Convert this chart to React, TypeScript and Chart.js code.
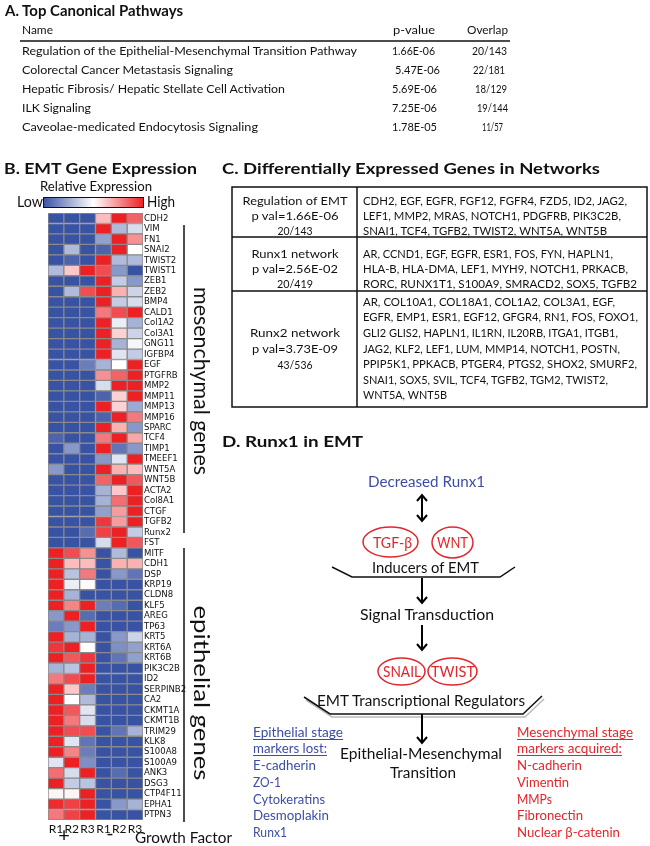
import React, { useEffect, useRef } from 'react';
import { Chart, registerables } from 'chart.js';
Chart.register(...registerables);

// ---------------- DATA ----------------
const PATHWAYS = [
  'Regulation of the Epithelial-Mesenchymal Transition Pathway',
  'Colorectal Cancer Metastasis Signaling',
  'Hepatic Fibrosis/ Hepatic Stellate Cell Activation',
  'ILK Signaling',
  'Caveolae-medicated Endocytosis Signaling',
];
const P_VALUES = ['1.66E-06', '5.47E-06', '5.69E-06', '7.25E-06', '1.78E-05'];
const OVERLAPS = ['20/143', '22/181', '18/129', '19/144', '11/57'];

const GENES = ['CDH2','VIM','FN1','SNAI2','TWIST2','TWIST1','ZEB1','ZEB2','BMP4','CALD1','Col1A2','Col3A1','GNG11','IGFBP4','EGF','PTGFRB','MMP2','MMP11','MMP13','MMP16','SPARC','TCF4','TIMP1','TMEEF1','WNT5A','WNT5B','ACTA2','Col8A1','CTGF','TGFB2','Runx2','FST','MITF','CDH1','DSP','KRP19','CLDN8','KLF5','AREG','TP63','KRT5','KRT6A','KRT6B','PIK3C2B','ID2','SERPINB2','CA2','CKMT1A','CKMT1B','TRIM29','KLK8','S100A8','S100A9','ANK3','DSG3','CTP4F11','EPHA1','PTPN3'];
const COLUMN_LABELS = ['R1', 'R2', 'R3', 'R1', 'R2', 'R3'];

// relative expression, -1 (low, blue) .. 1 (high, red)
const PLUS_R1 = [-1,-1,-1,-1,-1,-0.4,-1,-1,-1,-1, -1,-1,-1,-1,-1,-1,-1,-1,-1,-1, -1,-0.9,-1,-1,-0.6,-1,-1,-1,-1,-1, -1,-1,1,1,1,1,1,1,-0.6,-0.75, 1,0.9,1,-0.45,0.6,1,1,1,1,1, 1,1,-0.15,0.65,1,0.05,0.95,0.6];
const PLUS_R2 = [-1,-1,-1,-0.4,-0.9,0.25,-1,-0.4,-1,-1, -1,-1,-1,-1,-1,-1,-1,-1,-1,-1, -1,-1,-0.6,-1,-1,-1,-1,-1,-1,-1, -1,-1,0.8,0.3,-0.35,-0.1,-0.45,0.55,1,-0.6, -0.45,1,0.75,-0.35,0.8,0.25,0,0.75,0.6,0.8, -0.15,0.55,1,-0.2,-0.3,0.05,0.85,0.85];
const PLUS_R3 = [-1,-1,-1,-1,-1,1,-1,0.8,-1,-1, -1,-1,-1,-1,-0.75,-1,-1,-1,-1,-1, -1,-1,-1,-1,-1,-1,-1,-1,-1,-1, -0.85,-1,0.5,0.3,0.6,0.02,-1,1,-0.85,1, -0.45,0,0.9,1,1,-0.75,-0.4,-0.15,-0.2,0.8, -0.8,-0.75,-0.65,1,-0.35,1,1,1];
const MINUS_R1 = [0.3,1,-0.55,-0.9,1,0.8,1,1,1,0.6, 1,1,1,1,-0.45,0.5,-0.2,-0.9,1,-0.9, 1,0.6,1,-0.6,1,0.7,-0.45,-0.45,-0.55,0.9, 0.85,-0.2,-1,-1,-1,-1,-1,-0.75,-1,-1, -1,-1,-1,-1,-1,-1,-1,-1,-1,-1, -1,-1,-1,-1,-1,-1,-1,-1];
const MINUS_R2 = [1,-0.4,1,1,-0.4,-0.6,-0.3,0.35,-0.3,0.8, -0.1,0.2,-0.45,-0.15,0,0.7,1,0.2,0.2,1, 0.35,1,-0.8,-0.15,0.35,1,0.25,0.65,0.45,0.45, 1,1,-0.4,0.35,-0.6,-1,-1,-0.85,-1,-1, -0.6,-0.65,-0.8,-1,-1,-1,-1,-1,-1,-0.8, -1,-1,-1,-0.85,-1,-1,-0.6,-1];
const MINUS_R3 = [0.7,-0.2,0.5,0,-0.4,-1,-0.6,-0.25,-0.2,1, -0.45,-0.25,-0.05,-0.3,1,1,1,1,-0.5,0.6, -0.6,0.4,-0.6,1,0.3,0.75,1,1,1,1, -0.3,0.75,-1,0.35,-0.8,-1,-1,-1,-1,-1, -0.25,-0.55,-0.55,-1,-1,-1,-1,-1,-1,-0.45, -1,-1,-1,-1,-1,-1,-0.45,-1];
const COLUMNS = [PLUS_R1, PLUS_R2, PLUS_R3, MINUS_R1, MINUS_R2, MINUS_R3];

const NETWORK_NAMES = ['Regulation of EMT', 'Runx1 network', 'Runx2  network'];
const NETWORK_PVALS = ['p val=1.66E-06', 'p val=2.56E-02', 'p val=3.73E-09'];
const NETWORK_OVERLAPS = ['20/143', '20/419', '43/536'];
const NETWORK_GENES = [
  ['CDH2, EGF, EGFR, FGF12, FGFR4, FZD5, ID2, JAG2,', 'LEF1, MMP2, MRAS, NOTCH1, PDGFRB, PIK3C2B,', 'SNAI1, TCF4, TGFB2, TWIST2, WNT5A, WNT5B'],
  ['AR, CCND1, EGF, EGFR, ESR1, FOS, FYN, HAPLN1,', 'HLA-B, HLA-DMA, LEF1, MYH9, NOTCH1, PRKACB,', 'RORC, RUNX1T1, S100A9, SMRACD2, SOX5, TGFB2'],
  ['AR, COL10A1, COL18A1, COL1A2, COL3A1, EGF,', 'EGFR, EMP1, ESR1, EGF12, GFGR4, RN1, FOS, FOXO1,', 'GLI2 GLIS2, HAPLN1, IL1RN, IL20RB, ITGA1, ITGB1,', 'JAG2, KLF2, LEF1, LUM, MMP14, NOTCH1, POSTN,', 'PPIP5K1, PPKACB, PTGER4, PTGS2, SHOX2, SMURF2,', 'SNAI1, SOX5, SVIL, TCF4, TGFB2, TGM2, TWIST2,', 'WNT5A, WNT5B'],
];
const EPI_MARKERS = ['E-cadherin', 'ZO-1', 'Cytokeratins', 'Desmoplakin', 'Runx1'];
const MES_MARKERS = ['N-cadherin', 'Vimentin', 'MMPs', 'Fibronectin', 'Nuclear \u03b2-catenin'];

// ---------------- LAYOUT (positions / widths) ----------------
const A_ROW_Y = [55, 74, 93, 112, 131];
const A_NAME_W = [335, 211, 263, 69, 236];
const A_PV_X = [392, 395, 392, 392, 392];
const A_PV_W = [43, 45, 45, 45, 45];
const A_OV_X = [472, 473, 475, 477, 482];
const A_OV_W = [35, 32, 32, 31, 21];
const C_LEFT_Y = [[205, 220, 235], [258, 273, 288], [337, 353, 369]];
const C_LEFT_W = [[105, 87, 35], [87, 86, 36], [90, 86, 35]];
const C_RIGHT_Y = [[205, 220, 235], [258, 273, 288], [305.5, 321, 337, 352.5, 368, 384, 399]];
const C_RIGHT_W = [[264, 258, 244], [250, 265, 274], [252, 275, 255, 257, 274, 245, 84]];
const EPI_W = [63, 28, 72, 76, 34];
const MES_W = [65, 52, 35, 66, 103];

const FONT = "Lato, 'Open Sans', sans-serif";
const NARROW = "'Liberation Sans Narrow', 'DejaVu Sans Condensed', Lato, sans-serif";
const BLUE_TXT = '#3d4da3';
const RED_TXT = '#e1262c';
const LOW_RGB = [57, 83, 164];
const HIGH_RGB = [237, 32, 36];

function heatColor(v: number) {
  const t = Math.min(1, Math.abs(v));
  const target = v < 0 ? LOW_RGB : HIGH_RGB;
  const c = target.map((ch) => Math.round(255 + (ch - 255) * t));
  return `rgb(${c[0]},${c[1]},${c[2]})`;
}

let measureCtx: CanvasRenderingContext2D | null = null;
function measure(text: string, size: number, family: string, bold: boolean) {
  if (!measureCtx) measureCtx = document.createElement('canvas').getContext('2d');
  if (!measureCtx) return 0;
  measureCtx.font = `${bold ? 700 : 400} ${size}px ${family}`;
  return measureCtx.measureText(text).width;
}
// one font size for a group of texts, so that the longest texts fit their measured widths
function groupSize(items: [string, number][], s: number, bold = false, grow = 1) {
  const long = items.filter(([t]) => t.length >= 8);
  const use = long.length ? long : items;
  let r = 1.1;
  for (const [t, w] of use) {
    const nat = measure(t, s, FONT, bold);
    if (nat > 0) r = Math.min(r, w / nat);
  }
  return s * Math.max(0.6, r) * grow;
}

type TP = { x: number; y: number; s: number; w?: number; a?: string; c?: string; b?: boolean; children: any };
function T({ x, y, s, w, a = 'start', c = '#111', b = false, children }: TP) {
  const extra: any = w ? { textLength: w, lengthAdjust: 'spacingAndGlyphs' } : {};
  return (
    <text x={x} y={y} fontSize={s} fill={c} textAnchor={a as any} fontWeight={b ? 700 : 400} fontFamily={FONT} {...extra}>
      {children}
    </text>
  );
}

function Arrow({ x, y1, y2, both = false }: { x: number; y1: number; y2: number; both?: boolean }) {
  return (
    <g stroke="#000" strokeWidth={2} fill="none">
      <line x1={x} y1={y1} x2={x} y2={y2} />
      <polyline points={`${x - 5},${y2 - 6} ${x},${y2} ${x + 5},${y2 - 6}`} />
      {both && <polyline points={`${x - 5},${y1 + 6} ${x},${y1} ${x + 5},${y1 + 6}`} />}
    </g>
  );
}

function Heatmap() {
  const ref = useRef<HTMLCanvasElement>(null);
  useEffect(() => {
    const ctx = ref.current!.getContext('2d')!;
    const chart = new Chart(ctx, {
      type: 'bar',
      data: {
        labels: GENES,
        datasets: COLUMNS.map((vals, ci) => ({
          label: COLUMN_LABELS[ci],
          data: vals.map((v, ri) => ({ x: 1, y: GENES[ri], v })),
          backgroundColor: (c: any) => heatColor(c.raw ? c.raw.v : 0),
          borderColor: '#8a8a8a',
          borderWidth: 1,
          borderSkipped: false,
          barPercentage: 1,
          categoryPercentage: 1,
        })) as any,
      },
      options: {
        responsive: false,
        animation: false,
        indexAxis: 'y',
        layout: { padding: 0 },
        plugins: { legend: { display: false }, tooltip: { enabled: false } },
        scales: {
          x: {
            type: 'linear',
            stacked: true,
            min: 0,
            max: COLUMN_LABELS.length,
            position: 'bottom',
            grid: { display: false, drawTicks: false },
            border: { display: false },
            afterBuildTicks: (s: any) => {
              s.ticks = COLUMN_LABELS.map((_, i) => ({ value: i + 0.5 }));
            },
            afterFit: (s: any) => {
              s.height = 22;
              s.paddingLeft = 0;
              s.paddingRight = 0;
            },
            ticks: {
              autoSkip: false,
              maxRotation: 0,
              padding: 2,
              color: '#111',
              font: { family: FONT, size: 12 },
              callback: (_v: any, i: number) => COLUMN_LABELS[i],
            },
          },
          y: {
            type: 'category',
            stacked: true,
            position: 'right',
            grid: { display: false, drawTicks: false },
            border: { display: false },
            afterFit: (s: any) => {
              s.width = 65;
              s.paddingTop = 0;
              s.paddingBottom = 0;
            },
            ticks: {
              autoSkip: false,
              padding: 1,
              color: '#111',
              font: { family: NARROW, size: 9.5, lineHeight: 1 },
            },
          },
        },
      } as any,
    });
    return () => chart.destroy();
  }, []);
  return <canvas ref={ref} width={160} height={629} style={{ position: 'absolute', left: 48, top: 213 }} />;
}

export default function App() {
  useEffect(() => {
    document.body.style.margin = '0';
  }, []);

  const titleS = groupSize(
    [['A. Top Canonical Pathways', 178], ['B. EMT Gene Expression', 193], ['C. Differentially Expressed Genes in Networks', 378], ['D.  Runx1  in EMT', 141]],
    18, true, 1.05);
  const aS = groupSize(
    [...PATHWAYS.map((p, i) => [p, A_NAME_W[i]] as [string, number]), ...P_VALUES.map((p, i) => [p, A_PV_W[i]] as [string, number])],
    15, false, 1.06);
  const cS = groupSize(
    [...NETWORK_GENES.flatMap((g, i) => g.map((l, j) => [l, C_RIGHT_W[i][j]] as [string, number])),
     ...NETWORK_NAMES.map((n, i) => [n, C_LEFT_W[i][0]] as [string, number]),
     ...NETWORK_PVALS.map((n, i) => [n, C_LEFT_W[i][1]] as [string, number])],
    14, false, 1.05);
  const dS = groupSize(
    [['Decreased Runx1', 117], ['Inducers of EMT', 107], ['Signal Transduction', 134], ['EMT Transcriptional Regulators', 208], ['Epithelial-Mesenchymal', 162]],
    16, false, 1.06);
  const lS = groupSize(
    [['Epithelial stage', 90], ['markers lost:', 74], ['Mesenchymal stage', 116], ['markers acquired:', 105],
     ...EPI_MARKERS.map((m, i) => [m, EPI_W[i]] as [string, number]), ...MES_MARKERS.map((m, i) => [m, MES_W[i]] as [string, number])],
    14.5, false, 1.06);
  const rotS = groupSize([['mesenchymal genes', 188], ['epithelial genes', 175]], 21);
  const gfS = groupSize([['Growth Factor', 97]], 16, false, 1.03);
  const relS = groupSize([['Relative Expression', 112]], 14, false, 1.05);

  return (
    <div style={{ position: 'absolute', left: 0, top: 0, width: 650, height: 846, background: '#fff', overflow: 'hidden' }}>
      <Heatmap />
      <svg width={650} height={846} style={{ position: 'absolute', left: 0, top: 0, pointerEvents: 'none' }}>
        <defs>
          <linearGradient id="lg" x1="0" x2="1" y1="0" y2="0">
            <stop offset="0" stopColor={heatColor(-1)} />
            <stop offset="0.5" stopColor="#fff" />
            <stop offset="1" stopColor={heatColor(1)} />
          </linearGradient>
        </defs>

        {/* A */}
        <T x={5} y={16} s={titleS} b w={178}>A. Top Canonical Pathways</T>
        <T x={22} y={34} s={aS} w={31}>Name</T>
        <T x={393} y={34} s={aS} w={42}>p-value</T>
        <T x={467} y={34} s={aS} w={41}>Overlap</T>
        <line x1={20} y1={41} x2={510} y2={41} stroke="#111" strokeWidth={1.6} />
        {PATHWAYS.map((p, i) => (
          <g key={i}>
            <T x={22} y={A_ROW_Y[i]} s={aS} w={A_NAME_W[i]}>{p}</T>
            <T x={A_PV_X[i]} y={A_ROW_Y[i]} s={aS} w={A_PV_W[i]}>{P_VALUES[i]}</T>
            <T x={A_OV_X[i]} y={A_ROW_Y[i]} s={aS} w={A_OV_W[i]}>{OVERLAPS[i]}</T>
          </g>
        ))}

        {/* B */}
        <T x={4} y={174} s={titleS} b w={193}>B. EMT Gene Expression</T>
        <T x={40} y={191} s={relS} w={112}>Relative Expression</T>
        <T x={17} y={207} s={relS * 1.1} w={26}>Low</T>
        <rect x={43.5} y={197.5} width={100} height={10} fill="url(#lg)" stroke="#111" strokeWidth={1} />
        <T x={147} y={207} s={relS * 1.1} w={28}>High</T>
        <line x1={184} y1={225} x2={184} y2={533} stroke="#111" strokeWidth={1.5} />
        <line x1={184} y1={548} x2={184} y2={822} stroke="#111" strokeWidth={1.5} />
        <g transform="translate(194,381) rotate(90)">
          <T x={0} y={0} s={rotS} a="middle" w={188}>mesenchymal genes</T>
        </g>
        <g transform="translate(194,693) rotate(90)">
          <T x={0} y={0} s={rotS} a="middle" w={175}>epithelial genes</T>
        </g>
        <T x={64} y={842} s={20} a="middle">+</T>
        <T x={110} y={840} s={20} a="middle">-</T>
        <T x={135} y={843} s={gfS} w={97}>Growth Factor</T>

        {/* C */}
        <T x={222} y={174} s={titleS} b w={378}>C. Differentially Expressed Genes in Networks</T>
        <g stroke="#111" strokeWidth={1.5} fill="none">
          <rect x={232} y={187} width={415} height={220} />
          <line x1={357} y1={187} x2={357} y2={407} />
          <line x1={232} y1={237} x2={647} y2={237} />
          <line x1={232} y1={291} x2={647} y2={291} />
        </g>
        {NETWORK_NAMES.map((n, i) => (
          <g key={i}>
            <T x={295} y={C_LEFT_Y[i][0]} s={cS} a="middle" w={C_LEFT_W[i][0]}>{n}</T>
            <T x={295} y={C_LEFT_Y[i][1]} s={cS} a="middle" w={C_LEFT_W[i][1]}>{NETWORK_PVALS[i]}</T>
            <T x={295} y={C_LEFT_Y[i][2]} s={cS} a="middle" w={C_LEFT_W[i][2]}>{NETWORK_OVERLAPS[i]}</T>
            {NETWORK_GENES[i].map((line, j) => (
              <T key={j} x={363} y={C_RIGHT_Y[i][j]} s={cS} w={C_RIGHT_W[i][j]}>{line}</T>
            ))}
          </g>
        ))}

        {/* D */}
        <T x={222} y={447} s={titleS} b w={141}>D.  Runx1  in EMT</T>
        <T x={368} y={487} s={dS} c={BLUE_TXT} w={117}>Decreased Runx1</T>
        <Arrow x={422} y1={495} y2={521} both />
        <g stroke={RED_TXT} strokeWidth={1.5} fill="none">
          <ellipse cx={390.5} cy={542} rx={27.5} ry={15} />
          <ellipse cx={452.5} cy={542.5} rx={20.5} ry={15.5} />
          <ellipse cx={401.5} cy={671.5} rx={23.5} ry={13.5} />
          <ellipse cx={452.5} cy={671.5} rx={24.5} ry={13.5} />
        </g>
        <T x={373} y={548} s={dS} c={RED_TXT} w={39}>TGF-β</T>
        <T x={437} y={548} s={dS} c={RED_TXT} w={31}>WNT</T>
        <polyline points="332,567 352,577 500,577 515,567" stroke="#111" strokeWidth={1.5} fill="none" />
        <T x={372} y={573} s={dS} w={107}>Inducers of EMT</T>
        <Arrow x={422} y1={578} y2={603} />
        <T x={360} y={620} s={dS} w={134}>Signal Transduction</T>
        <Arrow x={422} y1={625} y2={650} />
        <T x={383} y={677} s={dS} c={RED_TXT} w={38}>SNAIL</T>
        <T x={431} y={677} s={dS} c={RED_TXT} w={44}>TWIST</T>
        <polyline points="306,700 332,717 525,717 544,699" stroke="#bbb" strokeWidth={1.5} fill="none" />
        <polyline points="304,697 330,714 523,714 542,696" stroke="#111" strokeWidth={1.5} fill="none" />
        <T x={317} y={706} s={dS} w={208}>EMT Transcriptional Regulators</T>
        <Arrow x={422} y1={714} y2={743} />
        <T x={340} y={759} s={dS} w={162}>Epithelial-Mesenchymal</T>
        <T x={390} y={778} s={dS} w={66}>Transition</T>

        <T x={253} y={737} s={lS} c={BLUE_TXT} w={90}>Epithelial stage</T>
        <line x1={253} y1={739.5} x2={343} y2={739.5} stroke={BLUE_TXT} strokeWidth={1} />
        <T x={253} y={753} s={lS} c={BLUE_TXT} w={74}>markers lost:</T>
        <line x1={253} y1={755.5} x2={327} y2={755.5} stroke={BLUE_TXT} strokeWidth={1} />
        {EPI_MARKERS.map((m, i) => (
          <T key={i} x={253} y={770 + i * 16.75} s={lS} c={BLUE_TXT} w={EPI_W[i]}>{m}</T>
        ))}
        <T x={517} y={737} s={lS} c={RED_TXT} w={116}>Mesenchymal stage</T>
        <line x1={517} y1={739.5} x2={633} y2={739.5} stroke={RED_TXT} strokeWidth={1} />
        <T x={517} y={753} s={lS} c={RED_TXT} w={105}>markers acquired:</T>
        <line x1={517} y1={755.5} x2={622} y2={755.5} stroke={RED_TXT} strokeWidth={1} />
        {MES_MARKERS.map((m, i) => (
          <T key={i} x={517} y={770 + i * 16.75} s={lS} c={RED_TXT} w={MES_W[i]}>{m}</T>
        ))}
      </svg>
    </div>
  );
}
